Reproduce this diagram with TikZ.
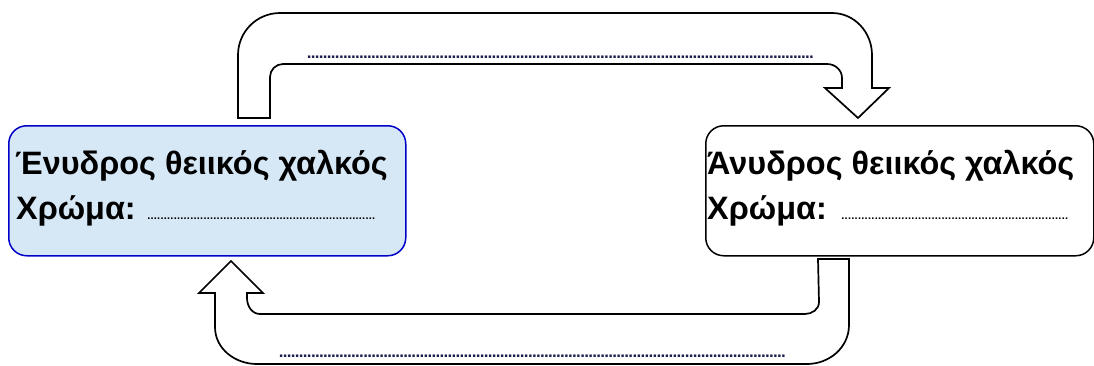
\documentclass[tikz,border=0pt]{standalone}
\usepackage{fontspec}
\setmainfont{Liberation Sans}
\definecolor{boxblue}{RGB}{214,231,246}
\definecolor{boxedge}{RGB}{0,0,200}
\definecolor{dotcol}{RGB}{30,30,80}
\newcommand\leaderdots[3]{{\fontsize{#2}{#2}\selectfont\bfseries\hbox to #1{\xleaders\hbox to #3{\hss.\hss}\hfill}}}
\begin{document}
\begin{tikzpicture}[x=1pt,y=-1pt,
  blockarrow/.style={draw=black,line width=1.7pt,fill=white,line join=miter},
  cardbox/.style={rounded corners=18pt,line width=1.5pt,minimum width=397pt,minimum height=130pt,anchor=north west,inner sep=0pt},
  lbl/.style={font=\fontsize{32.4}{33}\selectfont\bfseries,anchor=base west,inner sep=0pt},
  dotlbl/.style={anchor=base west,inner sep=0pt}]
\useasboundingbox (0,0) rectangle (1094,365);
% top block arrow
\draw[blockarrow] (238,118) -- (238,55) to[out=90,in=180] (280,13) -- (832,13)
  to[out=0,in=90] (872,55) -- (872,88) -- (889,88) -- (858,118) -- (825,88) -- (842,88)
  -- (842,78) to[out=90,in=0] (827,64) -- (283,64) to[out=180,in=90] (270,77) -- (270,118) -- cycle;
% bottom block arrow
\draw[blockarrow] (818,259) -- (849,259) -- (849,325) to[out=-90,in=0] (807,364) -- (257,364)
  to[out=180,in=-90] (215,327) -- (215,293) -- (199,293) -- (231,261) -- (263,293) -- (247,293)
  -- (247,298) to[out=-90,in=180] (260,314) -- (805,314) to[out=0,in=-90] (819,302) -- cycle;
% boxes
\node[cardbox,draw=boxedge,fill=boxblue] (L) at (8,125) {};
\node[cardbox,draw=black,fill=white,minimum width=388pt] (R) at (705,125) {};
% texts
\node[lbl] (L1) at (15,174) {Ένυδρος θειικός χαλκός};
\node[lbl] (L2) at (16,219) {Χρώμα:};
\node[dotlbl] (L3) at (147,219) {\leaderdots{228pt}{11}{3.3pt}};
\node[lbl] (R1) at (707,174) {Άνυδρος θειικός χαλκός};
\node[lbl] (R2) at (707,219) {Χρώμα:};
\node[dotlbl] (R3) at (841,219) {\leaderdots{227pt}{11}{3.3pt}};
% blank fields on arrows
\node[dotlbl,text=dotcol] (T) at (307,58) {\leaderdots{506pt}{17}{4pt}};
\node[dotlbl,text=dotcol] (B) at (279,357) {\leaderdots{506pt}{17}{4pt}};
\end{tikzpicture}
\end{document}
